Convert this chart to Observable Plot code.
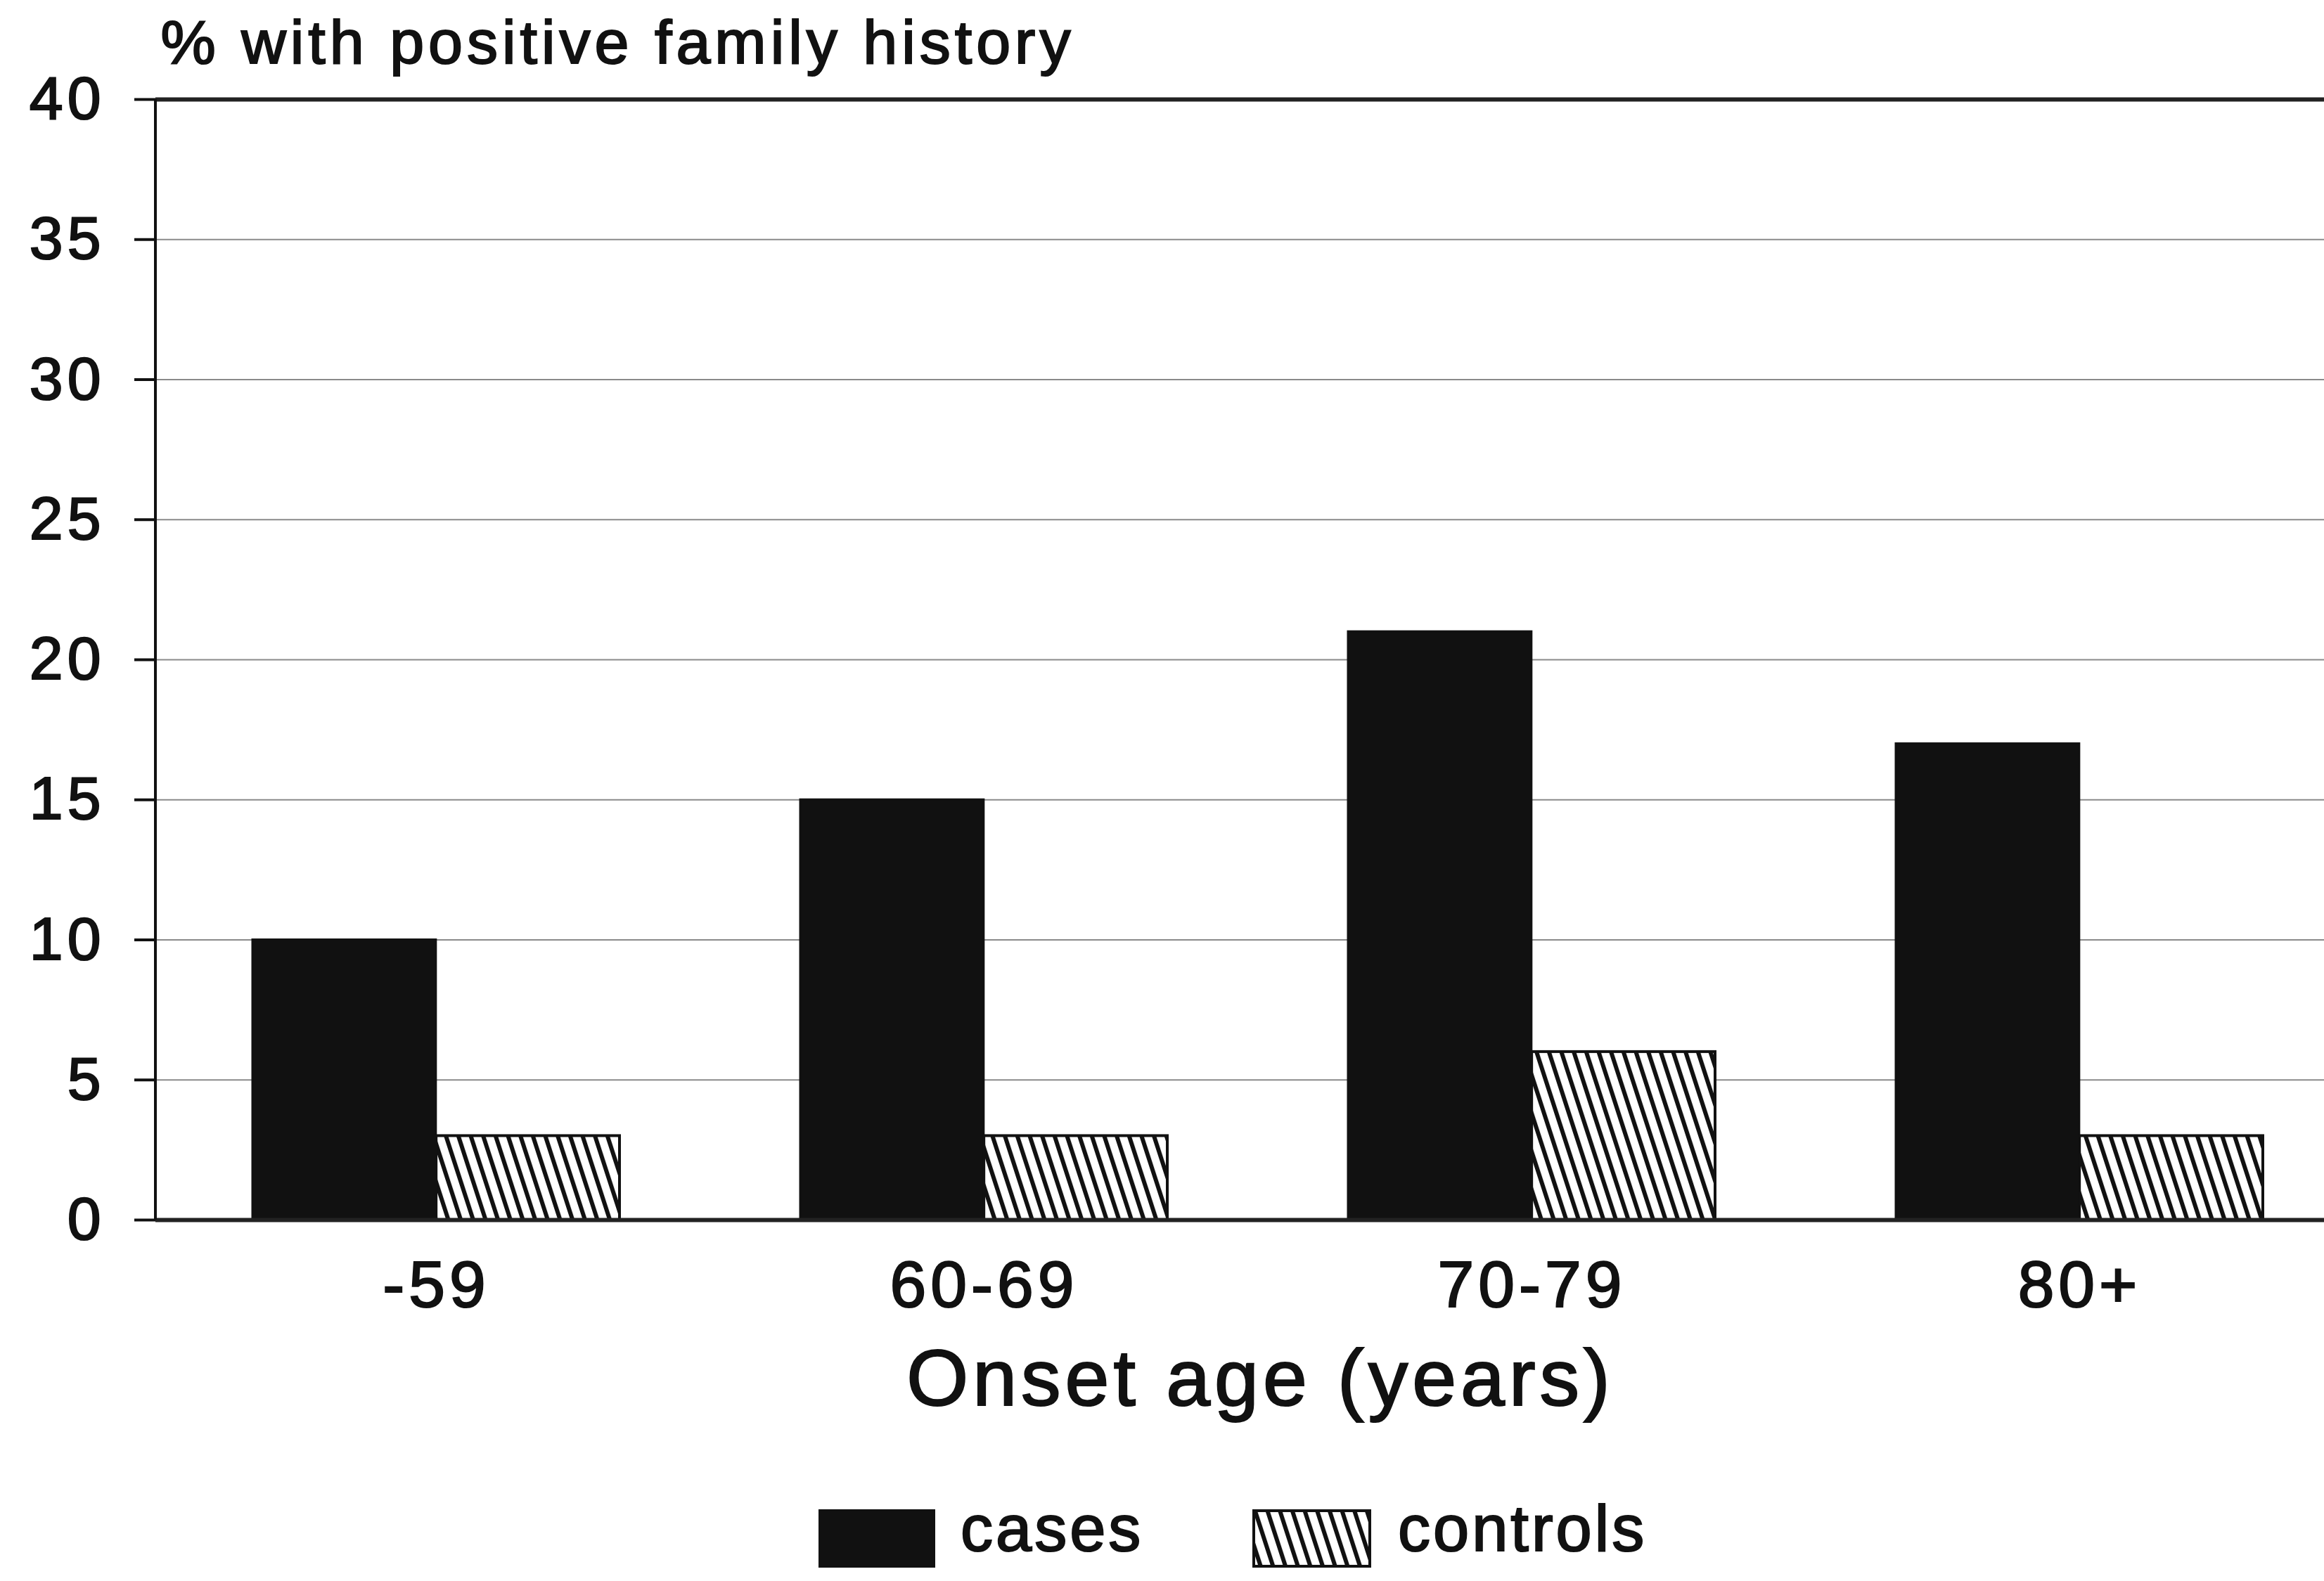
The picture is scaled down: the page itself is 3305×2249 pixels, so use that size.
<!DOCTYPE html>
<html>
<head>
<meta charset="utf-8">
<script src="https://cdn.jsdelivr.net/npm/d3@7"></script>
<script src="https://cdn.jsdelivr.net/npm/@observablehq/plot@0.6"></script>
<style>
  html, body { margin: 0; padding: 0; background: #fff; overflow: hidden; }
  #wrap { position: relative; width: 3305px; height: 2249px; font-family: "Liberation Sans", Arial, sans-serif; color: #111; }
  #chart svg text { letter-spacing: 6px; stroke: #111; stroke-width: 2.2px; paint-order: stroke; }
  #legend { position: absolute; left: 0; top: 2050px; width: 3305px; height: 199px; }
  .sw { position: absolute; top: 97px; }
  .lab { position: absolute; top: 78px; font-size: 92px; letter-spacing: 4px; line-height: 1; -webkit-text-stroke: 2.2px #111; }
</style>
</head>
<body>
<div id="wrap">
  <div id="chart"></div>
  <div id="legend"></div>
</div>
<script>
// ---- data ----
const ageGroups = ["-59", "60-69", "70-79", "80+"];
const casesPct = [10, 15, 21, 17];
const controlsPct = [3, 3, 6, 3];
const seriesNames = ["cases", "controls"];
const yTicks = [0, 5, 10, 15, 20, 25, 30, 35, 40];
const yGrid = [5, 10, 15, 20, 25, 30, 35];
const yFrame = [0, 40];
const yTitle = "% with positive family history";
const xTitle = "Onset age (years)";

const cases = ageGroups.map((g, i) => ({group: g, series: "cases", value: casesPct[i]}));
const controls = ageGroups.map((g, i) => ({group: g, series: "controls", value: controlsPct[i]}));

const W = 3305, H = 2050;
const mL = 221, mT = 141, mB = 315;
const rangeRight = 3355;
const padInner = 0.33, padOuter = 0.175;
const step = (rangeRight - mL) / (ageGroups.length - padInner + 2 * padOuter);
const half = (1 - padInner) * step / 2;

function hatchDefs(id) {
  return `<pattern id="${id}" patternUnits="userSpaceOnUse" width="16.8" height="16.8" patternTransform="rotate(-18)">
    <rect width="16.8" height="16.8" fill="#fff"/>
    <rect x="0" y="0" width="6" height="16.8" fill="#111"/>
  </pattern>`;
}

const defsMark = () => {
  const g = d3.create("svg:defs");
  g.html(hatchDefs("hatchMain"));
  return g.node();
};

const leftLine = (index, scales) => {
  const l = d3.create("svg:line")
    .attr("x1", mL).attr("x2", mL)
    .attr("y1", scales.y(40)).attr("y2", scales.y(0))
    .attr("stroke", "#111").attr("stroke-width", 4);
  return l.node();
};

const chart = Plot.plot({
  width: W,
  height: H,
  marginLeft: mL,
  marginRight: 0,
  marginTop: mT,
  marginBottom: mB,
  style: {background: "#fff", fontFamily: "'Liberation Sans', Arial, sans-serif", color: "#111", overflow: "visible"},
  x: {domain: ageGroups, range: [mL, rangeRight], paddingInner: padInner, paddingOuter: padOuter, label: null},
  y: {domain: [0, 40], label: null},
  marks: [
    defsMark,
    Plot.ruleY(yGrid, {stroke: "#8a8a8a", strokeWidth: 2}),
    Plot.barY(cases, {x: "group", y: "value", fill: "#111", stroke: "#111", strokeWidth: 3, insetRight: half}),
    Plot.barY(controls, {x: "group", y: "value", fill: "url(#hatchMain)", stroke: "#111", strokeWidth: 4, insetLeft: half}),
    Plot.ruleY(yFrame, {stroke: "#222", strokeWidth: 6}),
    leftLine,
    Plot.axisY({ticks: yTicks, tickSize: 30, tickPadding: 42, fontSize: 86, strokeWidth: 4, label: null}),
    Plot.axisX({tickSize: 0, tickPadding: 57, fontSize: 93, label: null}),
    Plot.text([yTitle], {text: d => d, frameAnchor: "top-left", textAnchor: "start", lineAnchor: "bottom", dx: 7, dy: -52, fontSize: 88}),
    Plot.text([xTitle], {text: d => d, frameAnchor: "bottom", textAnchor: "middle", lineAnchor: "middle", dx: 29, dy: 227, fontSize: 113})
  ]
});
document.getElementById("chart").appendChild(chart);

// ---- legend ----
const legend = document.getElementById("legend");
const legendItems = [
  {name: seriesNames[0], swLeft: 1164, swW: 166, labLeft: 1366, fill: "#111"},
  {name: seriesNames[1], swLeft: 1781, swW: 169, labLeft: 1988, fill: "url(#hatchLegend)"}
];
legendItems.forEach(it => {
  const sw = document.createElementNS("http://www.w3.org/2000/svg", "svg");
  sw.setAttribute("class", "sw");
  sw.setAttribute("width", it.swW);
  sw.setAttribute("height", 83);
  sw.style.left = it.swLeft + "px";
  sw.innerHTML = `<defs>${hatchDefs("hatchLegend")}</defs>
    <rect x="2" y="2" width="${it.swW - 4}" height="79" fill="${it.fill}" stroke="#111" stroke-width="4"/>`;
  legend.appendChild(sw);
  const lab = document.createElement("div");
  lab.className = "lab";
  lab.style.left = it.labLeft + "px";
  lab.textContent = it.name;
  legend.appendChild(lab);
});
</script>
</body>
</html>
